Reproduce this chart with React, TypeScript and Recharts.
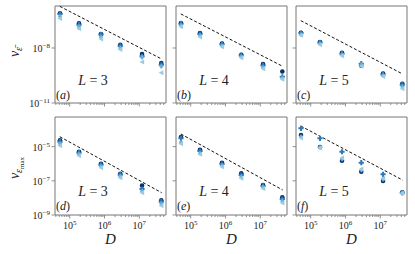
import React from "react";
import {
  ReferenceArea,
  ReferenceLine,
  Scatter,
  ScatterChart,
  XAxis,
  YAxis,
} from "recharts";

const serif = "Liberation Serif, DejaVu Serif, serif";
const axisColor = "#777";
const navy = "#08306b";
const blue = "#2b7bba";
const light = "#6baed6";
const pale = "#9ecae1";

// bond dimension D (shared by every panel)
const dims = [5.26e4, 1.85e5, 7.93e5, 2.84e6, 1.2e7, 4.29e7];
const dashD = [5.2e4, 4.4e7];
const xDomain: [number, number] = [3.78e4, 5.85e7];

// top row: v_eps_bar
const topDomain: [number, number] = [1e-11, 1.95e-6];
const topTicks = [1e-11, 1e-8];
// bottom row: v_eps_max
const bottomDomain: [number, number] = [1e-9, 5.4e-4];
const bottomTicks = [1e-9, 1e-7, 1e-5];

// (a) L = 3
const aCircle = [7.8e-7, 2.2e-7, 5.8e-8, 1.5e-8, 4.7e-9, 1.5e-9];
const aPlus = [7.2e-7, 1.86e-7, 5.4e-8, 1.29e-8, 3.5e-9, 1.23e-9];
const aDiamond = [5.3e-7, 1.45e-7, 4.0e-8, 1.0e-8, 3.1e-9, 1.0e-9];
const aTriangle = [4.0e-7, 1.12e-7, 3.1e-8, 8.3e-9, 1.74e-9, 4.4e-10];
const aDash = [1.86e-6, 2.5e-9];

// (b) L = 4
const bCircle = [2.31e-7, 6.6e-8, 1.72e-8, 4.3e-9, 1.35e-9, 5.2e-10];
const bPlus = [2.12e-7, 5.8e-8, 1.58e-8, 4.0e-9, 1.12e-9, 2.7e-10];
const bDiamond = [1.71e-7, 4.7e-8, 1.33e-8, 3.35e-9, 8.7e-10, 2.3e-10];
const bTriangle = [1.45e-7, 4.0e-8, 1.17e-8, 2.95e-9, 7.4e-10, 1.95e-10];
const bDash = [7.2e-7, 1.0e-9];

// (c) L = 5
const cCircle = [6.8e-8, 2.14e-8, 5.4e-9, 1.08e-9, 4.0e-10, 1.12e-10];
const cPlus = [6.3e-8, 1.95e-8, 4.9e-9, 1.39e-9, 3.6e-10, 1.0e-10];
const cDiamond = [5.5e-8, 1.72e-8, 4.3e-9, 1.23e-9, 3.2e-10, 7.8e-11];
const cTriangle = [4.9e-8, 1.51e-8, 3.8e-9, 1.0e-9, 2.8e-10, 6.0e-11];
const cDash = [3.1e-7, 3.8e-10];

// (d) L = 3
const dCircle = [2.33e-5, 5.0e-6, 1.0e-6, 2.6e-7, 5.2e-8, 7.2e-9];
const dPlus = [1.94e-5, 4.4e-6, 8.7e-7, 2.28e-7, 3.3e-8, 6.0e-9];
const dDiamond = [1.48e-5, 3.55e-6, 7.0e-7, 1.83e-7, 2.5e-8, 4.6e-9];
const dTriangle = [1.13e-5, 2.94e-6, 5.8e-7, 1.51e-7, 2.0e-8, 3.5e-9];
const dDash = [3.8e-5, 2.0e-8];

// (e) L = 4
const eCircle = [3.64e-5, 6.6e-6, 1.14e-6, 2.75e-7, 5.7e-8, 1.08e-8];
const ePlus = [3.05e-5, 5.5e-6, 9.6e-7, 2.18e-7, 5.0e-8, 8.6e-9];
const eDiamond = [1.78e-5, 4.05e-6, 7.6e-7, 1.67e-7, 4.2e-8, 6.6e-9];
const eTriangle = [1.48e-5, 3.55e-6, 6.7e-7, 1.4e-7, 3.6e-8, 5.0e-9];
const eDash = [5.5e-5, 2.9e-8];

// (f) L = 5
const fCircle = [4.8e-5, 9.5e-6, 1.5e-6, 3.4e-7, 9.7e-8, 2.1e-8];
const fPlus = [1.17e-4, 3.05e-5, 5.0e-6, 1.15e-6, 2.4e-7, 2.0e-8];
const fDiamond = [3.8e-5, 9.1e-6, 1.88e-6, 4.3e-7, 1.22e-7, 1.94e-8];
const fTriangle = [3.2e-5, 8.3e-6, 2.15e-6, 4.7e-7, 1.4e-7, 1.86e-8];
const fDash = [1.6e-4, 1.1e-7];

const xTicks: number[] = [];
for (let k = 4; k <= 7; k++) {
  for (let m = 1; m <= 9; m++) {
    const v = m * Math.pow(10, k);
    if (v >= xDomain[0] && v <= xDomain[1]) xTicks.push(v);
  }
}

const toPoints = (vals: number[]) => vals.map((y, i) => ({ x: dims[i], y }));

const Dot = (p: any) => <circle cx={p.cx} cy={p.cy} r={2.3} fill={navy} />;
const Plus = (p: any) => {
  const s = 2.6;
  const t = 1.0;
  const { cx, cy } = p;
  return (
    <path
      d={`M${cx - t},${cy - s}H${cx + t}V${cy - t}H${cx + s}V${cy + t}H${cx + t}V${cy + s}H${cx - t}V${cy + t}H${cx - s}V${cy - t}H${cx - t}Z`}
      fill={blue}
    />
  );
};
const Diamond = (p: any) => {
  const { cx, cy } = p;
  return <path d={`M${cx},${cy - 2.7}L${cx + 2.2},${cy}L${cx},${cy + 2.7}L${cx - 2.2},${cy}Z`} fill={light} />;
};
const TriLeft = (p: any) => {
  const { cx, cy } = p;
  return <path d={`M${cx - 2.7},${cy}L${cx + 2.1},${cy - 2.5}L${cx + 2.1},${cy + 2.5}Z`} fill={pale} />;
};

function XTick(props: any) {
  const { x, y, payload, showLabel } = props;
  const e = Math.log10(payload.value);
  const major = Math.abs(e - Math.round(e)) < 1e-6;
  return (
    <g>
      <line x1={x} x2={x} y1={y} y2={y + (major ? 3.5 : 2)} stroke={axisColor} strokeWidth={0.8} />
      {major && showLabel && (
        <text x={x} y={y + 14} textAnchor="middle" fontSize={10} style={{ fontFamily: serif }} fill="#222">
          10
          <tspan dy={-4} fontSize={7}>
            {Math.round(e)}
          </tspan>
        </text>
      )}
    </g>
  );
}

function YTick(props: any) {
  const { x, y, payload, showLabel } = props;
  const e = Math.round(Math.log10(payload.value));
  return (
    <g>
      <line x1={x} x2={x - 3.5} y1={y} y2={y} stroke={axisColor} strokeWidth={0.8} />
      {showLabel && (
        <text x={x - 5} y={y + 4} textAnchor="end" fontSize={10} style={{ fontFamily: serif }} fill="#222">
          10
          <tspan dy={-4} fontSize={7}>
            {"\u2212" + Math.abs(e)}
          </tspan>
        </text>
      )}
    </g>
  );
}

interface PanelProps {
  left: number;
  top: number;
  height: number;
  yDomain: [number, number];
  yTicks: number[];
  yLabels: boolean;
  xLabels: boolean;
  circle: number[];
  plus: number[];
  diamond: number[];
  triangle: number[];
  dash: number[];
}

const PW = 111;
const ML = 50;

function Panel(p: PanelProps) {
  return (
    <div style={{ position: "absolute", left: p.left - ML, top: p.top - 5 }}>
      <ScatterChart
        width={PW + ML + 5}
        height={p.height + 5 + 30}
        margin={{ top: 5, right: 5, left: 0, bottom: 0 }}
      >
        <XAxis
          type="number"
          dataKey="x"
          scale="log"
          domain={xDomain}
          allowDataOverflow
          ticks={xTicks}
          interval={0}
          height={30}
          axisLine={false}
          tickLine={false}
          tickSize={0}
          tickMargin={0}
          tick={(t: any) => <XTick {...t} showLabel={p.xLabels} />}
        />
        <YAxis
          type="number"
          dataKey="y"
          scale="log"
          domain={p.yDomain}
          allowDataOverflow
          ticks={p.yTicks}
          interval={0}
          width={ML}
          axisLine={false}
          tickLine={false}
          tickSize={0}
          tickMargin={0}
          tick={(t: any) => <YTick {...t} showLabel={p.yLabels} />}
        />
        <ReferenceArea
          x1={xDomain[0]}
          x2={xDomain[1]}
          y1={p.yDomain[0]}
          y2={p.yDomain[1]}
          fill="none"
          stroke={axisColor}
          strokeWidth={1}
          ifOverflow="visible"
        />
        <ReferenceLine
          segment={[
            { x: dashD[0], y: p.dash[0] },
            { x: dashD[1], y: p.dash[1] },
          ]}
          stroke="#111"
          strokeWidth={1}
          strokeDasharray="3 2"
          ifOverflow="visible"
        />
        <Scatter data={toPoints(p.circle)} shape={Dot} isAnimationActive={false} />
        <Scatter data={toPoints(p.plus)} shape={Plus} isAnimationActive={false} />
        <Scatter data={toPoints(p.diamond)} shape={Diamond} isAnimationActive={false} />
        <Scatter data={toPoints(p.triangle)} shape={TriLeft} isAnimationActive={false} />
      </ScatterChart>
    </div>
  );
}

const panels = [
  { left: 55, top: 6, height: 97, yDomain: topDomain, yTicks: topTicks, yLabels: true, xLabels: false, circle: aCircle, plus: aPlus, diamond: aDiamond, triangle: aTriangle, dash: aDash, tag: "a", L: 3 },
  { left: 176, top: 6, height: 97, yDomain: topDomain, yTicks: topTicks, yLabels: false, xLabels: false, circle: bCircle, plus: bPlus, diamond: bDiamond, triangle: bTriangle, dash: bDash, tag: "b", L: 4 },
  { left: 296, top: 6, height: 97, yDomain: topDomain, yTicks: topTicks, yLabels: false, xLabels: false, circle: cCircle, plus: cPlus, diamond: cDiamond, triangle: cTriangle, dash: cDash, tag: "c", L: 5 },
  { left: 55, top: 117, height: 98, yDomain: bottomDomain, yTicks: bottomTicks, yLabels: true, xLabels: true, circle: dCircle, plus: dPlus, diamond: dDiamond, triangle: dTriangle, dash: dDash, tag: "d", L: 3 },
  { left: 176, top: 117, height: 98, yDomain: bottomDomain, yTicks: bottomTicks, yLabels: false, xLabels: true, circle: eCircle, plus: ePlus, diamond: eDiamond, triangle: eTriangle, dash: eDash, tag: "e", L: 4 },
  { left: 296, top: 117, height: 98, yDomain: bottomDomain, yTicks: bottomTicks, yLabels: false, xLabels: true, circle: fCircle, plus: fPlus, diamond: fDiamond, triangle: fTriangle, dash: fDash, tag: "f", L: 5 },
];

export default function App() {
  return (
    <div
      style={{
        position: "absolute",
        left: 0,
        top: 0,
        width: 415,
        height: 254,
        background: "#fff",
        overflow: "hidden",
        fontFamily: serif,
      }}
    >
      {panels.map((p) => (
        <Panel key={p.tag} {...p} />
      ))}
      <svg
        width={415}
        height={254}
        style={{ position: "absolute", left: 0, top: 0, pointerEvents: "none", fontFamily: serif }}
        fill="#222"
      >
        {panels.map((p) => (
          <g key={p.tag}>
            <text x={p.left + 38} y={p.top + 79} textAnchor="middle" fontSize={14}>
              <tspan fontStyle="italic">L</tspan> = {p.L}
            </text>
            <text x={p.left + 1} y={p.top + 93} fontSize={12}>
              (<tspan fontStyle="italic">{p.tag}</tspan>)
            </text>
            {p.xLabels && (
              <text x={p.left + PW / 2} y={244} textAnchor="middle" fontSize={15} fontStyle="italic">
                D
              </text>
            )}
          </g>
        ))}
        <text transform="translate(19,52) rotate(-90)" textAnchor="middle" fontSize={14}>
          <tspan fontStyle="italic">v</tspan>
          <tspan fontSize={10} dy={3} fontStyle="italic">
            {"\u03b5\u0304"}
          </tspan>
        </text>
        <text transform="translate(19,168) rotate(-90)" textAnchor="middle" fontSize={14}>
          <tspan fontStyle="italic">v</tspan>
          <tspan fontSize={10} dy={3} fontStyle="italic">
            {"\u03b5"}
          </tspan>
          <tspan fontSize={7} dy={2}>
            max
          </tspan>
        </text>
      </svg>
    </div>
  );
}
